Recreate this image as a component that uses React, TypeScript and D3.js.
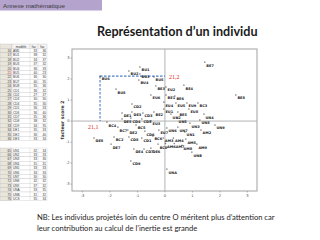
import React from 'react';
import * as d3 from 'd3';

// ---- scatter data (facteur score 1 vs facteur score 2) ----
const pointLabels = [
  'BU1','BU2','BU3','BU4','BU5','BU6','BU8','BE3','EU6','EU2','CD2','DE1','DE3','CD3','BE2','EU1','EU4','BE1',
  'BE7','BE4','BE6','BE8','EU5','EU9','BC3','EU8','BE5','UN2','UN4',
  'BC4','DE5','CD4','CD5','EU3','BC7','BC5','DE2','CD6','EU7','DE8','BC2','CD8','CD1','BC6','DE7','DE4','CD7','DE6','BC8','CD9',
  'UN5','UN3','UN8','UN9','UN6','UN7','UN1','AM2','AM3','AM4','AM5','AM6','AM7','AM8','AM9','UNB','UNA'
];
const pointX = [
  -0.91,-1.31,-0.91,-0.95,-0.40,-2.36,-1.78,-0.33,-0.51,0.04,-1.20,-1.56,-1.20,-0.80,-0.40,-0.04,-0.04,0.04,
  1.45,0.69,0.36,2.58,0.40,0.80,1.20,0.87,0.47,0.22,1.42,
  -2.11,-1.56,-1.24,-0.84,-0.51,-1.71,-1.05,-1.35,-0.73,-0.22,-2.58,-1.85,-1.31,-0.84,-0.44,-1.96,-1.13,-0.76,-0.51,-0.25,-1.24,
  0.44,0.91,1.27,1.82,0.07,0.47,0.73,1.31,-0.06,0.31,0.76,0.02,0.34,0.62,1.16,0.98,0.07
];
const pointY = [
  2.57,2.38,2.24,1.95,2.10,2.14,1.52,1.67,1.24,1.62,0.81,0.38,0.43,0.38,0.43,0.57,0.90,1.24,
  2.80,1.71,1.19,1.24,0.86,0.86,0.86,0.57,0.43,0.33,0.33,
  -0.05,0.10,0.14,0.10,0.0,-0.29,-0.19,-0.43,-0.48,-0.43,-0.81,-0.76,-0.76,-0.81,-0.71,-1.10,-1.33,-1.33,-1.29,-1.10,-1.90,
  0.14,-0.10,0.05,-0.19,-0.33,-0.29,-0.52,-0.43,-0.81,-0.81,-0.86,-1.07,-1.07,-1.16,-1.10,-1.48,-2.29
];
const highlightIndex = 5; // BU6, row 21
const highlightLabels = ['21,1', '21,2'];
const xTicks = [-3, -2, -1, 0, 1, 2, 3];
const yTicks = [-3, -2, -1, 0, 1, 2, 3];

// ---- spreadsheet excerpt ----
const tableHeader = ['', 'modèle', 'fac', 'fac'];
const topRowNums = [16,17,18,19,20,21,22,23,24,25,26,27,28,29,30,31,32,33,34,35,36];
const topLabels = ['AM1','BU1','BU2','BU3','BU4','BU5','BU6','BU7','BU8','CD1','CD2','CD3','CD4','CD5','CD6','CD7','CD8','CD9','DE1','DE2','DE3'];
const topC1 = [33,38,34,37,36,40,36,40,35,36,27,30,35,36,36,35,38,34,35,36,33];
const topC2 = [36,32,37,32,33,23,30,35,36,32,37,30,30,33,40,36,32,35,33,40,34];
const botRowNums = [65,66,67,68,69,70,71,72,73,74,75,76];
const botLabels = ['UN1','UN2','UN3','UN4','UN5','UN6','UN7','UN8','UN9','UNA','UNB','UCS'];
const botC1 = [32,33,33,31,33,34,30,32,37,33,31,35];
const botC2 = [34,33,36,31,33,34,30,32,32,35,32,34];

const W = 320, H = 240;

function Table() {
  const cols = [0, 12, 30, 38, 47];
  const rh = 4.4;
  const font = "'Liberation Sans', Arial, sans-serif";
  const rows: any[] = [];
  const drawBlock = (y0: number, nums: number[], labs: string[], c1: number[], c2: number[]) => {
    nums.forEach((n, i) => {
      const y = y0 + i * rh;
      rows.push(
        <g key={`r${n}`}>
          <rect x={cols[0]} y={y} width={cols[1]} height={rh} fill="#e9e6dc" stroke="#b8b8b8" strokeWidth={0.35} />
          <rect x={cols[1]} y={y} width={cols[4] - cols[1]} height={rh} fill="#ffffff" stroke="#c4c4c4" strokeWidth={0.35} />
          {[2, 3].map(c => <line key={c} x1={cols[c]} x2={cols[c]} y1={y} y2={y + rh} stroke="#c4c4c4" strokeWidth={0.35} />)}
          <text x={cols[1] - 1} y={y + rh - 0.9} fontSize={3.2} textAnchor="end" fill={n === 21 ? '#e02020' : '#444'} fontFamily={font}>{n}</text>
          <text x={cols[1] + 1} y={y + rh - 0.9} fontSize={3.2} fill="#333" fontFamily={font}>{labs[i]}</text>
          <text x={cols[3] - 1} y={y + rh - 0.9} fontSize={3.2} textAnchor="end" fill="#333" fontFamily={font}>{c1[i]}</text>
          <text x={cols[4] - 1} y={y + rh - 0.9} fontSize={3.2} textAnchor="end" fill="#333" fontFamily={font}>{c2[i]}</text>
        </g>
      );
    });
  };
  const hy = 44;
  drawBlock(hy + rh, topRowNums, topLabels, topC1, topC2);
  drawBlock(148, botRowNums, botLabels, botC1, botC2);
  return (
    <g>
      <rect x={cols[0]} y={hy} width={cols[1]} height={rh} fill="#e9e6dc" stroke="#b8b8b8" strokeWidth={0.35} />
      <rect x={cols[1]} y={hy} width={cols[4] - cols[1]} height={rh} fill="#f4f4f4" stroke="#b8b8b8" strokeWidth={0.35} />
      {[2, 3].map(c => <line key={c} x1={cols[c]} x2={cols[c]} y1={hy} y2={hy + rh} stroke="#b8b8b8" strokeWidth={0.35} />)}
      {tableHeader.map((h, i) => i > 0 ? (
        <text key={i} x={(cols[i] + cols[i + 1]) / 2} y={hy + rh - 0.9} fontSize={3.2} textAnchor="middle" fill="#333" fontFamily={font}>{h}</text>
      ) : null)}
      {rows}
    </g>
  );
}

export default function App() {
  const x = d3.scaleLinear().domain([-3.38, 3.35]).range([72, 257]);
  const y = d3.scaleLinear().domain([-3.33, 3.43]).range([191, 49]);
  const sans = "Lato, 'Open Sans', sans-serif";
  const hx = x(pointX[highlightIndex]);
  const hyv = y(pointY[highlightIndex]);
  return (
    <svg width={W} height={H} viewBox={`0 0 ${W} ${H}`} style={{ position: 'absolute', left: 0, top: 0, background: '#fff' }}>
      <rect x={0} y={0} width={W} height={H} fill="#fff" />
      {/* banner */}
      <rect x={0} y={0} width={102} height={10.5} fill="#b4a3cd" />
      <text x={3} y={7.6} fontSize={6.2} fill="#3a3a3a" fontFamily="'Liberation Sans', Arial, sans-serif">Annexe mathématique</text>
      {/* title */}
      <text x={97} y={35.5} fontSize={12.6} fontWeight={700} fill="#1a1a1a" fontFamily={sans}>Représentation d’un individu</text>

      <Table />

      {/* plot frame */}
      <rect x={x.range()[0]} y={y.range()[1]} width={x.range()[1] - x.range()[0]} height={y.range()[0] - y.range()[1]} fill="#fff" stroke="#aaaaaa" strokeWidth={1.1} />
      <line x1={x(0)} x2={x(0)} y1={y.range()[1]} y2={y.range()[0]} stroke="#b3b3b3" strokeWidth={1} />
      <line x1={x.range()[0]} x2={x.range()[1]} y1={y(0)} y2={y(0)} stroke="#b3b3b3" strokeWidth={1} />

      {/* ticks */}
      {xTicks.map(t => (
        <g key={`xt${t}`}>
          <line x1={x(t)} x2={x(t)} y1={y.range()[0]} y2={y.range()[0] + 1.5} stroke="#777" strokeWidth={0.5} />
          <text x={x(t)} y={y.range()[0] + 5.5} fontSize={3.6} textAnchor="middle" fill="#444" fontFamily="'DejaVu Sans', sans-serif">{t}</text>
        </g>
      ))}
      {yTicks.map(t => (
        <g key={`yt${t}`}>
          <line x1={x.range()[0] - 1.5} x2={x.range()[0]} y1={y(t)} y2={y(t)} stroke="#777" strokeWidth={0.5} />
          <text x={x.range()[0] - 2.5} y={y(t) + 1.3} fontSize={3.6} textAnchor="end" fill="#444" fontFamily="'DejaVu Sans', sans-serif">{t}</text>
        </g>
      ))}
      <text transform={`translate(63.5,${(y.range()[0] + y.range()[1]) / 2}) rotate(-90)`} fontSize={4.6} fontWeight={700} textAnchor="middle" fill="#333" fontFamily="'DejaVu Sans', sans-serif">facteur score   2</text>

      {/* highlight dashed guides */}
      <line x1={hx} x2={x(0)} y1={hyv} y2={hyv} stroke="#4a7dc4" strokeWidth={1.1} strokeDasharray="2.5,1.5" />
      <line x1={hx} x2={hx} y1={hyv} y2={y(0)} stroke="#4a7dc4" strokeWidth={1.1} strokeDasharray="2.5,1.5" />
      <text x={x(0) + 4} y={hyv + 3} fontSize={6} fill="#e02828" fontFamily="'Liberation Serif', serif">{highlightLabels[1]}</text>
      <text x={hx - 12} y={y(0) + 8} fontSize={6} fill="#e02828" fontFamily="'Liberation Serif', serif">{highlightLabels[0]}</text>

      {/* points */}
      {pointLabels.map((lab, i) => {
        const px = x(pointX[i]);
        const py = y(pointY[i]);
        return (
          <g key={`p${i}`}>
            <path d={`M${px - 0.8},${py}H${px + 0.8}M${px},${py - 0.8}V${py + 0.8}`} stroke="#333" strokeWidth={0.4} />
            <text x={px + 1.6} y={py + 4.4} fontSize={3.5} fontWeight={700} fill="#222" fontFamily="'DejaVu Sans', sans-serif">{lab}</text>
          </g>
        );
      })}

      {/* note */}
      <text x={37} y={220} fontSize={7.6} fill="#1e1e1e" fontFamily={sans}>NB: Les individus projetés loin du centre O méritent plus d’attention car</text>
      <text x={37} y={230.5} fontSize={7.6} fill="#1e1e1e" fontFamily={sans}>leur contribution au calcul de l’inertie est grande</text>
    </svg>
  );
}
